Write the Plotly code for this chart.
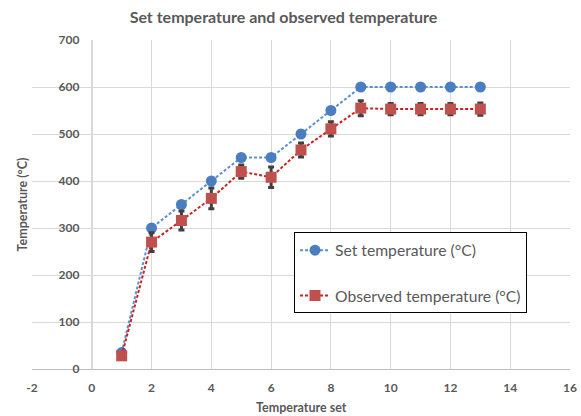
import plotly.graph_objects as go

temperature_set = [1, 2, 3, 4, 5, 6, 7, 8, 9, 10, 11, 12, 13]
set_temperature = [35, 300, 350, 400, 450, 450, 500, 550, 600, 600, 600, 600, 600]
observed_temperature = [28, 270, 316, 363, 420, 408, 466, 511, 555, 553, 553, 553, 553]
observed_error = [0, 20, 20, 22, 14, 22, 15, 15, 16, 12, 12, 12, 13]

x_ticks = list(range(-2, 17, 2))
y_ticks = list(range(0, 701, 100))

font_family = "Lato, 'Open Sans', sans-serif"
text_grey = "#595959"

fig = go.Figure()

fig.add_trace(go.Scatter(
    x=temperature_set, y=set_temperature,
    mode="lines+markers",
    name="Set temperature (°C)",
    legendgroup="a",
    line=dict(color="#5B8FD0", width=2, dash="3px,2px"),
    marker=dict(symbol="circle", size=11, color="#4A7EC0"),
))

fig.add_trace(go.Scatter(
    x=temperature_set, y=observed_temperature,
    mode="lines+markers",
    name="Observed temperature (°C)",
    legendgroup="b",
    line=dict(color="#CC1F1F", width=2, dash="3px,2px"),
    marker=dict(symbol="square", size=11, color="#C0504D"),
    error_y=dict(type="data", array=observed_error, visible=True,
                 color="#404040", thickness=3, width=3),
))

fig.update_layout(
    width=581, height=416,
    margin=dict(l=32, r=11, t=40, b=47, autoexpand=False),
    paper_bgcolor="white",
    plot_bgcolor="white",
    font=dict(family=font_family, color=text_grey, size=12),
    title=dict(
        text="<b>Set temperature and observed temperature</b>",
        x=0.488, xref="container", xanchor="center",
        y=0.958, yref="container", yanchor="middle",
        font=dict(size=16, color=text_grey, family=font_family),
    ),
    showlegend=True,
    legend=dict(
        x=0.487, xanchor="left",
        y=0.415, yanchor="top",
        bordercolor="black", borderwidth=1,
        bgcolor="white",
        font=dict(size=15.7, color=text_grey, family=font_family),
        tracegroupgap=22,
        itemwidth=30,
    ),
    xaxis=dict(
        range=[-2, 16],
        tickvals=x_ticks,
        ticktext=[str(v) for v in x_ticks],
        showgrid=True, gridcolor="#D9D9D9", gridwidth=1,
        zeroline=False,
        showline=True, linecolor="#BFBFBF", linewidth=1,
        ticks="", ticklabelstandoff=8,
        ticklabeloverflow="allow",
        automargin=False,
        tickfont=dict(size=12, color=text_grey, family=font_family, weight="bold"),
        domain=[0, 1],
    ),
    yaxis=dict(
        range=[0, 700],
        tickvals=y_ticks,
        ticktext=[str(v) for v in y_ticks],
        showgrid=True, gridcolor="#D9D9D9", gridwidth=1,
        zeroline=False,
        showline=True, linecolor="#D9D9D9", linewidth=1,
        anchor="free", position=2 / 18,
        ticks="", ticklabelstandoff=10,
        automargin=False,
        tickfont=dict(size=12, color=text_grey, family=font_family, weight="bold"),
    ),
)

fig.add_annotation(
    text="<b>Temperature (°C)</b>",
    xref="paper", yref="paper",
    x=-10 / 538, y=0.5,
    showarrow=False, textangle=-90,
    xanchor="center", yanchor="middle",
    font=dict(size=12.5, color=text_grey, family=font_family),
)

fig.add_annotation(
    text="<b>Temperature set</b>",
    xref="paper", yref="paper",
    x=0.5, y=-38 / 329,
    showarrow=False,
    xanchor="center", yanchor="middle",
    font=dict(size=12.5, color=text_grey, family=font_family),
)

fig.write_html(
    "out.html",
    config={"displayModeBar": False},
    post_script="document.body.style.margin='0';",
)
